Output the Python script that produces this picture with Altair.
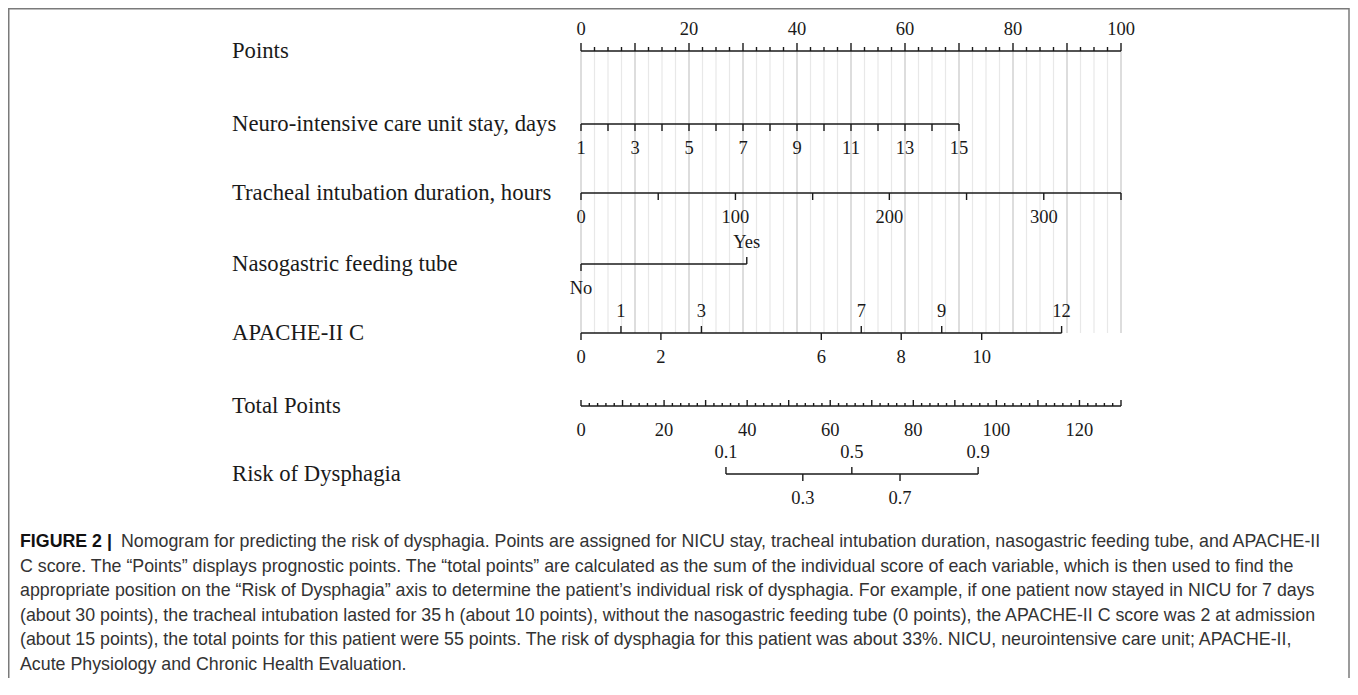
import altair as alt
import pandas as pd

# ---------------- data ----------------
row_names = [
    "Points",
    "Neuro-intensive care unit stay, days",
    "Tracheal intubation duration, hours",
    "Nasogastric feeding tube",
    "APACHE-II C",
    "Total Points",
    "Risk of Dysphagia",
]

# Points scale (0-100)
points_major = [0, 10, 20, 30, 40, 50, 60, 70, 80, 90, 100]
points_step_minor = 2.5
points_labels = [0, 20, 40, 60, 80, 100]

# Neuro-intensive care unit stay (days) -> points
neuro_days = [1, 2, 3, 4, 5, 6, 7, 8, 9, 10, 11, 12, 13, 14, 15]
neuro_points = [0, 5, 10, 15, 20, 25, 30, 35, 40, 45, 50, 55, 60, 65, 70]
neuro_labelled = [1, 3, 5, 7, 9, 11, 13, 15]

# Tracheal intubation duration (hours) -> points
tracheal_hours = [0, 50, 100, 150, 200, 250, 300, 350]
tracheal_points = [0, 14.3, 28.6, 42.9, 57.1, 71.4, 85.7, 100]
tracheal_labelled = [0, 100, 200, 300]

# Nasogastric feeding tube -> points
naso_levels = ["No", "Yes"]
naso_points = [0, 30.7]

# APACHE-II C -> points
apache_values = [0, 1, 2, 3, 6, 7, 8, 9, 10, 12]
apache_points = [0, 7.4, 14.8, 22.3, 44.5, 51.9, 59.3, 66.8, 74.2, 89.0]
apache_above = [1, 3, 7, 9, 12]

# Total points scale (0-130)
total_max = 130
total_major_step = 10
total_minor_step = 2
total_labels = [0, 20, 40, 60, 80, 100, 120]

# Risk of dysphagia -> total points
risk_values = ["0.1", "0.3", "0.5", "0.7", "0.9"]
risk_total_points = [34.9, 53.4, 65.2, 76.8, 95.6]
risk_above = ["0.1", "0.5", "0.9"]

caption_bold = "FIGURE 2 |"
caption_line1 = ("Nomogram for predicting the risk of dysphagia. Points are assigned for NICU stay, "
                 "tracheal intubation duration, nasogastric feeding tube, and APACHE-II")
caption_rest = [
    "C score. The \u201cPoints\u201d displays prognostic points. The \u201ctotal points\u201d are calculated as the sum of the individual score of each variable, which is then used to find the",
    "appropriate position on the \u201cRisk of Dysphagia\u201d axis to determine the patient\u2019s individual risk of dysphagia. For example, if one patient now stayed in NICU for 7 days",
    "(about 30 points), the tracheal intubation lasted for 35\u2009h (about 10 points), without the nasogastric feeding tube (0 points), the APACHE-II C score was 2 at admission",
    "(about 15 points), the total points for this patient were 55 points. The risk of dysphagia for this patient was about 33%. NICU, neurointensive care unit; APACHE-II,",
    "Acute Physiology and Chronic Health Evaluation.",
]

# ---------------- tables built from the arrays ----------------
to_pts = 100.0 / total_max  # total-point units -> points-axis units

lines, ticks, labels, grid = [], [], [], []

# row 0: Points
lines.append(dict(row=0, x0=0, x1=100))
n_minor = int(100 / points_step_minor)
for i in range(n_minor + 1):
    v = i * points_step_minor
    major = v in points_major
    ticks.append(dict(row=0, x=v, kind="up_major" if major else "up_minor"))
    grid.append(dict(x=v, kind="major" if major else "minor", r0=0, r1=4))
for v in points_labels:
    labels.append(dict(row=0, x=v, text=str(v), pos="above"))

# row 1: Neuro
lines.append(dict(row=1, x0=neuro_points[0], x1=neuro_points[-1]))
for d, p in zip(neuro_days, neuro_points):
    ticks.append(dict(row=1, x=p, kind="down"))
    if d in neuro_labelled:
        labels.append(dict(row=1, x=p, text=str(d), pos="below"))

# row 2: Tracheal
lines.append(dict(row=2, x0=tracheal_points[0], x1=tracheal_points[-1]))
for h, p in zip(tracheal_hours, tracheal_points):
    ticks.append(dict(row=2, x=p, kind="down"))
    if h in tracheal_labelled:
        labels.append(dict(row=2, x=p, text=str(h), pos="below"))

# row 3: Nasogastric
lines.append(dict(row=3, x0=naso_points[0], x1=naso_points[1]))
ticks.append(dict(row=3, x=naso_points[0], kind="down"))
ticks.append(dict(row=3, x=naso_points[1], kind="up"))
labels.append(dict(row=3, x=naso_points[0], text=naso_levels[0], pos="below"))
labels.append(dict(row=3, x=naso_points[1], text=naso_levels[1], pos="above"))

# row 4: APACHE
lines.append(dict(row=4, x0=apache_points[0], x1=apache_points[-1]))
for a, p in zip(apache_values, apache_points):
    up = a in apache_above
    ticks.append(dict(row=4, x=p, kind="up" if up else "down"))
    labels.append(dict(row=4, x=p, text=str(a), pos="above" if up else "below"))

# row 5: Total points
lines.append(dict(row=5, x0=0, x1=total_max * to_pts))
for t in range(0, total_max + 1, total_minor_step):
    major = t % total_major_step == 0
    ticks.append(dict(row=5, x=t * to_pts, kind="up_tmajor" if major else "up_tminor"))
for t in total_labels:
    labels.append(dict(row=5, x=t * to_pts, text=str(t), pos="below"))

# row 6: Risk
lines.append(dict(row=6, x0=risk_total_points[0] * to_pts, x1=risk_total_points[-1] * to_pts))
for r, t in zip(risk_values, risk_total_points):
    up = r in risk_above
    ticks.append(dict(row=6, x=t * to_pts, kind="up" if up else "down"))
    labels.append(dict(row=6, x=t * to_pts, text=r, pos="above" if up else "below"))

lines_df = pd.DataFrame(lines)
ticks_df = pd.DataFrame(ticks)
labels_df = pd.DataFrame(labels)
grid_df = pd.DataFrame(grid)
names_df = pd.DataFrame({"row": list(range(len(row_names))), "name": row_names})

# ---------------- chart ----------------
W, H = 1342, 670
xs = alt.Scale(domain=[0, 100], range=[573, 1113])
ys = alt.Scale(domain=[0, 1, 2, 3, 4, 5, 6], range=[43, 116, 185, 256, 325, 398, 466])
SERIF = "Liberation Serif"
INK = "#1a1a1a"

X = alt.X("x:Q", scale=xs, axis=None)
Yrow = alt.Y("row:Q", scale=ys, axis=None)

grid_layer = alt.Chart(grid_df).mark_rule(strokeWidth=1.2).encode(
    x=X,
    y=alt.Y("r0:Q", scale=ys, axis=None),
    y2="r1:Q",
    color=alt.Color("kind:N", scale=alt.Scale(domain=["major", "minor"], range=["#c6c6c6", "#e8e8e8"]), legend=None),
)

line_layer = alt.Chart(lines_df).mark_rule(strokeWidth=1.6, color=INK).encode(
    x=alt.X("x0:Q", scale=xs, axis=None), x2="x1:Q", y=Yrow
)

def tick_layer(kind, off):
    return alt.Chart(ticks_df).transform_filter(alt.datum.kind == kind).mark_rule(
        strokeWidth=1.4, color=INK, y2Offset=off
    ).encode(x=X, y=Yrow, y2="row:Q")

tick_layers = [
    tick_layer("up_major", -8),
    tick_layer("up_minor", -4),
    tick_layer("up_tmajor", -6),
    tick_layer("up_tminor", -3),
    tick_layer("up", -7),
    tick_layer("down", 7),
]

above_layer = alt.Chart(labels_df).transform_filter(alt.datum.pos == "above").mark_text(
    font=SERIF, fontSize=18.5, baseline="middle", dy=-22, color=INK
).encode(x=X, y=Yrow, text="text:N")

below_layer = alt.Chart(labels_df).transform_filter(alt.datum.pos == "below").mark_text(
    font=SERIF, fontSize=18.5, baseline="middle", dy=24, color=INK
).encode(x=X, y=Yrow, text="text:N")

names_layer = alt.Chart(names_df).mark_text(
    font=SERIF, fontSize=22.7, align="left", baseline="middle", color=INK
).encode(x=alt.value(224), y=Yrow, text="name:N")

CAP_FS = 17.8
cap_df = pd.DataFrame({"bold": [caption_bold], "l1": [caption_line1], "rest": [caption_rest]})
cap_bold = alt.Chart(cap_df).mark_text(
    font="Liberation Sans", fontSize=CAP_FS, fontWeight="bold", align="left", baseline="alphabetic", color="#111"
).encode(x=alt.value(12), y=alt.value(539), text="bold:N")
cap_l1 = alt.Chart(cap_df).mark_text(
    font="Liberation Sans", fontSize=CAP_FS, align="left", baseline="alphabetic", color="#333"
).encode(x=alt.value(113), y=alt.value(539), text="l1:N")
cap_rest = alt.Chart(cap_df).mark_text(
    font="Liberation Sans", fontSize=CAP_FS, align="left", baseline="alphabetic", color="#333", lineHeight=24.6
).encode(x=alt.value(12), y=alt.value(563.6), text="rest")

frame_df = pd.DataFrame({"a": [0]})
frame_style = dict(color="#7a7a7a", strokeWidth=1.5)
frame_top = alt.Chart(frame_df).mark_rule(**frame_style).encode(x=alt.value(0), x2=alt.value(W - 1), y=alt.value(0.75))
frame_left = alt.Chart(frame_df).mark_rule(**frame_style).encode(x=alt.value(0.75), y=alt.value(0), y2=alt.value(H))
frame_right = alt.Chart(frame_df).mark_rule(**frame_style).encode(x=alt.value(W - 1), y=alt.value(0), y2=alt.value(H))

chart = alt.layer(
    grid_layer, line_layer, *tick_layers, above_layer, below_layer, names_layer,
    cap_bold, cap_l1, cap_rest, frame_top, frame_left, frame_right,
).properties(
    width=W, height=H, autosize=alt.AutoSizeParams(type="none"), padding=0, background="white"
).configure_view(stroke=None)

chart.save("out.html", embed_options={"renderer": "svg", "actions": False})
